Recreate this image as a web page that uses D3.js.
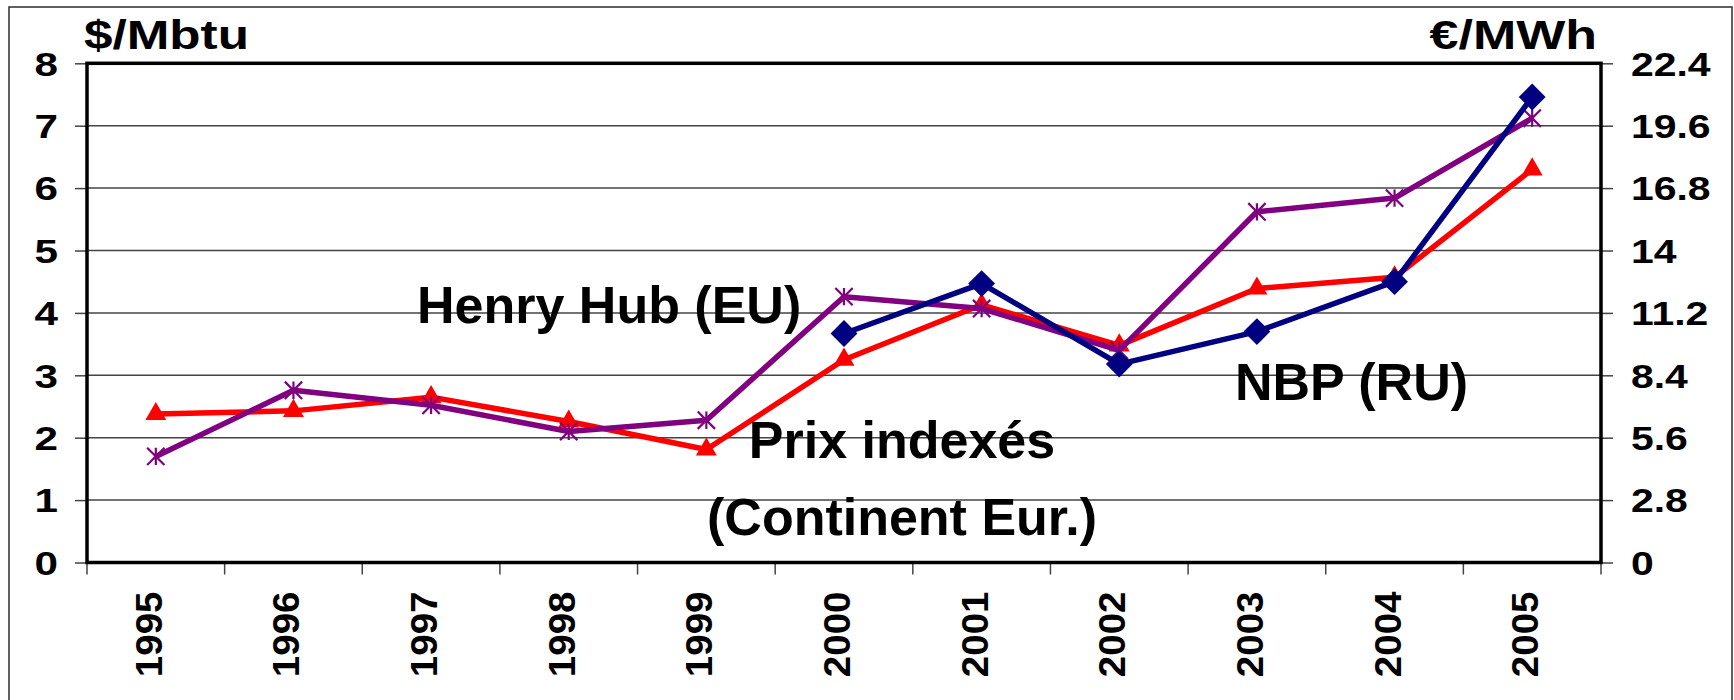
<!DOCTYPE html>
<html>
<head>
<meta charset="utf-8">
<script src="https://cdn.jsdelivr.net/npm/d3@7"></script>
<style>
  body { margin: 0; background: #fff; }
  text { font-family: "Liberation Sans", Arial, sans-serif; font-weight: bold; fill: #000; }
</style>
</head>
<body>
<svg id="chart" width="1734" height="700"></svg>
<script>
// chart data ($/Mbtu)
var years = ["1995", "1996", "1997", "1998", "1999", "2000", "2001", "2002", "2003", "2004", "2005"];
var prixIndexes = [2.38, 2.43, 2.65, 2.26, 1.81, 3.25, 4.13, 3.48, 4.39, 4.57, 6.3];
var henryHub = [1.70, 2.76, 2.52, 2.10, 2.28, 4.26, 4.07, 3.40, 5.62, 5.84, 7.12];
var nbp = [null, null, null, null, null, 3.67, 4.47, 3.18, 3.70, 4.50, 7.46];
var leftTicks = [0, 1, 2, 3, 4, 5, 6, 7, 8];
var rightTickLabels = ["0", "2.8", "5.6", "8.4", "11.2", "14", "16.8", "19.6", "22.4"];

var svg = d3.select("#chart");

// plot box (window.top is read only, so no "top" here)
var plotLeft = 87, plotRight = 1601, plotTop = 63.3, plotBottom = 562.5;

var x = d3.scaleBand().domain(years).range([plotLeft, plotRight]).padding(0);
var y = d3.scaleLinear().domain([0, 8]).range([plotBottom, plotTop]);
var yR = d3.scaleLinear().domain([0, 22.4]).range([plotBottom, plotTop]);
var cx = function(d) { return x(d) + x.bandwidth() / 2; };

// outer frame
svg.append("rect")
    .attr("x", 9).attr("y", 7)
    .attr("width", 1723).attr("height", 720)
    .attr("fill", "none").attr("stroke", "#444").attr("stroke-width", 1.7);

// gridlines
svg.append("g")
  .selectAll("line")
  .data(leftTicks.slice(1, -1))
  .enter()
  .append("line")
    .attr("x1", plotLeft).attr("x2", plotRight)
    .attr("y1", function(d) { return y(d); })
    .attr("y2", function(d) { return y(d); })
    .attr("stroke", "#444").attr("stroke-width", 1.5);

// left axis
var gLeft = svg.append("g")
    .attr("transform", "translate(" + plotLeft + ",0)")
    .call(d3.axisLeft(y).tickValues(leftTicks).tickSize(12).tickFormat(d3.format("d")));
gLeft.select(".domain").remove();
gLeft.selectAll("line").attr("stroke", "#444").attr("stroke-width", 1.5);
gLeft.selectAll("text")
    .attr("x", 0).attr("dy", "0.36em")
    .attr("text-anchor", "end")
    .attr("transform", "translate(-29,0) scale(1.28,1)")
    .style("font-size", "33px");

// right axis
var gRight = svg.append("g")
    .attr("transform", "translate(" + plotRight + ",0)")
    .call(d3.axisRight(yR)
      .tickValues(rightTickLabels.map(Number))
      .tickSize(12)
      .tickFormat(function(d, i) { return rightTickLabels[i]; }));
gRight.select(".domain").remove();
gRight.selectAll("line").attr("stroke", "#444").attr("stroke-width", 1.5);
gRight.selectAll("text")
    .attr("x", 0).attr("dy", "0.36em")
    .attr("text-anchor", "start")
    .attr("transform", "translate(30,0) scale(1.24,1)")
    .style("font-size", "33px");

// bottom axis: labels at band centres, ticks at band edges
var gBottom = svg.append("g")
    .attr("transform", "translate(0," + plotBottom + ")")
    .call(d3.axisBottom(x).tickSize(0));
gBottom.select(".domain").remove();
gBottom.selectAll("text")
    .attr("x", 0).attr("y", 0).attr("dy", 0)
    .attr("text-anchor", "end")
    .attr("transform", "translate(6,29) rotate(-90) scale(1.07,1)")
    .style("font-size", "36px");
svg.append("g")
  .selectAll("line")
  .data(years.map(function(d) { return x(d); }).concat([plotRight]))
  .enter()
  .append("line")
    .attr("x1", function(d) { return d; }).attr("x2", function(d) { return d; })
    .attr("y1", plotBottom).attr("y2", plotBottom + 12)
    .attr("stroke", "#444").attr("stroke-width", 1.5);

// plot border
svg.append("rect")
    .attr("x", plotLeft).attr("y", plotTop)
    .attr("width", plotRight - plotLeft).attr("height", plotBottom - plotTop)
    .attr("fill", "none").attr("stroke", "#000").attr("stroke-width", 3.5);

// axis unit titles
svg.append("text")
    .attr("transform", "translate(84,49) scale(1.28,1)")
    .style("font-size", "40px")
    .text("$/Mbtu");
svg.append("text")
    .attr("transform", "translate(1597,49) scale(1.3,1)")
    .attr("text-anchor", "end")
    .style("font-size", "40px")
    .text("€/MWh");

// asterisk marker like excel's star
var asterisk = {
  draw: function(ctx, size) {
    var r = Math.sqrt(size) / 2;
    ctx.moveTo(0, -r); ctx.lineTo(0, r);
    ctx.moveTo(-r, -r); ctx.lineTo(r, r);
    ctx.moveTo(-r, r); ctx.lineTo(r, -r);
  }
};

var series = [
  { values: prixIndexes, color: "#ff0000", symbol: d3.symbolTriangle, size: 190, rotate: 0, fill: true },
  { values: henryHub, color: "#800080", symbol: asterisk, size: 300, rotate: 0, fill: false },
  { values: nbp, color: "#000080", symbol: d3.symbolSquare, size: 360, rotate: 45, fill: true }
];

var line = d3.line()
    .defined(function(d) { return d.v != null; })
    .x(function(d) { return cx(d.year); })
    .y(function(d) { return y(d.v); });

series.forEach(function(s) {
  var pts = years.map(function(yr, i) { return { year: yr, v: s.values[i] }; });
  var g = svg.append("g");
  g.append("path")
      .attr("d", line(pts))
      .attr("fill", "none")
      .attr("stroke", s.color)
      .attr("stroke-width", 5.5)
      .attr("stroke-linejoin", "round");
  g.selectAll("path.marker")
    .data(pts.filter(function(d) { return d.v != null; }))
    .enter()
    .append("path")
      .attr("class", "marker")
      .attr("d", d3.symbol(s.symbol, s.size))
      .attr("transform", function(d) {
        return "translate(" + cx(d.year) + "," + y(d.v) + ") rotate(" + s.rotate + ")";
      })
      .attr("fill", s.fill ? s.color : "none")
      .attr("stroke", s.color)
      .attr("stroke-width", s.fill ? 0 : 2.2);
});

// series annotations
svg.append("text")
    .attr("x", 417).attr("y", 323)
    .style("font-size", "52px")
    .text("Henry Hub (EU)");
svg.append("text")
    .attr("x", 1235).attr("y", 400)
    .style("font-size", "52px")
    .text("NBP (RU)");
svg.append("text")
    .attr("x", 902).attr("y", 458)
    .attr("text-anchor", "middle")
    .style("font-size", "52px")
    .text("Prix indexés");
svg.append("text")
    .attr("x", 902).attr("y", 535)
    .attr("text-anchor", "middle")
    .style("font-size", "52px")
    .text("(Continent Eur.)");
</script>
</body>
</html>
